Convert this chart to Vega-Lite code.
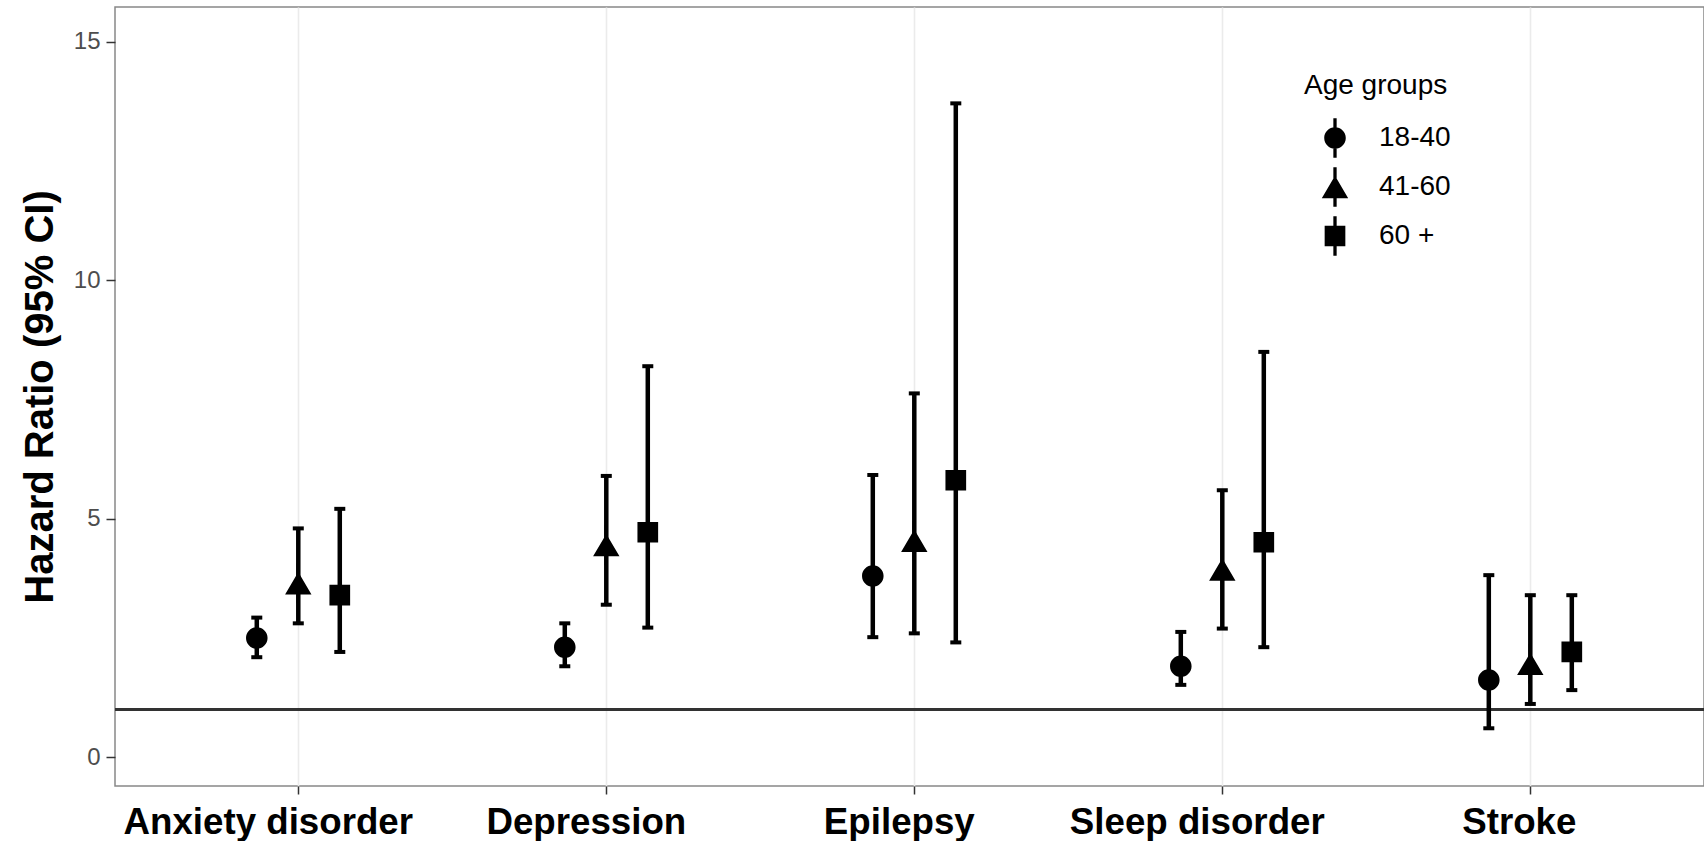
{
  "$schema": "https://vega.github.io/schema/vega-lite/v6.json",
  "autosize": {"type": "none"},
  "padding": {"left": 115, "top": 7, "right": 0, "bottom": 55},
  "width": 1589,
  "height": 779,
  "background": "white",
  "data": {"values": [
    {"disease": "Anxiety disorder", "age": "18-40", "hr": 2.5, "lower": 2.1, "upper": 2.93},
    {"disease": "Anxiety disorder", "age": "41-60", "hr": 3.65, "lower": 2.81, "upper": 4.8},
    {"disease": "Anxiety disorder", "age": "60 +", "hr": 3.4, "lower": 2.21, "upper": 5.21},
    {"disease": "Depression", "age": "18-40", "hr": 2.31, "lower": 1.91, "upper": 2.81},
    {"disease": "Depression", "age": "41-60", "hr": 4.45, "lower": 3.2, "upper": 5.9},
    {"disease": "Depression", "age": "60 +", "hr": 4.72, "lower": 2.72, "upper": 8.2},
    {"disease": "Epilepsy", "age": "18-40", "hr": 3.8, "lower": 2.52, "upper": 5.92},
    {"disease": "Epilepsy", "age": "41-60", "hr": 4.54, "lower": 2.6, "upper": 7.63},
    {"disease": "Epilepsy", "age": "60 +", "hr": 5.81, "lower": 2.41, "upper": 13.71},
    {"disease": "Sleep disorder", "age": "18-40", "hr": 1.91, "lower": 1.52, "upper": 2.63},
    {"disease": "Sleep disorder", "age": "41-60", "hr": 3.94, "lower": 2.7, "upper": 5.6},
    {"disease": "Sleep disorder", "age": "60 +", "hr": 4.51, "lower": 2.31, "upper": 8.5},
    {"disease": "Stroke", "age": "18-40", "hr": 1.62, "lower": 0.61, "upper": 3.82},
    {"disease": "Stroke", "age": "41-60", "hr": 1.96, "lower": 1.12, "upper": 3.4},
    {"disease": "Stroke", "age": "60 +", "hr": 2.21, "lower": 1.41, "upper": 3.4}
  ]},
  "layer": [
    {
      "mark": {"type": "rule", "color": "#333333", "strokeWidth": 2},
      "encoding": {
        "y": {"datum": 1, "type": "quantitative", "scale": {"domain": [-0.6, 15.73], "nice": false, "zero": false}, "title": "Hazard Ratio (95% CI)"}
      }
    },
    {
      "mark": {"type": "rule", "color": "black", "strokeWidth": 4.5},
      "encoding": {
        "x": {"field": "disease", "type": "nominal", "sort": ["Anxiety disorder", "Depression", "Epilepsy", "Sleep disorder", "Stroke"], "scale": {"type": "band", "paddingInner": 0, "paddingOuter": 0.0795, "align": 0.598}, "title": null},
        "xOffset": {"field": "age", "type": "nominal", "sort": ["18-40", "41-60", "60 +"], "scale": {"type": "point", "padding": 0, "range": [112.5, 195.5]}},
        "y": {"field": "lower", "type": "quantitative", "title": "Hazard Ratio (95% CI)"},
        "y2": {"field": "upper"}
      }
    },
    {
      "mark": {"type": "tick", "color": "black", "thickness": 4, "size": 11, "opacity": 1},
      "encoding": {
        "x": {"field": "disease", "type": "nominal", "sort": ["Anxiety disorder", "Depression", "Epilepsy", "Sleep disorder", "Stroke"], "title": null},
        "xOffset": {"field": "age", "type": "nominal", "sort": ["18-40", "41-60", "60 +"]},
        "y": {"field": "upper", "type": "quantitative", "title": "Hazard Ratio (95% CI)"}
      }
    },
    {
      "mark": {"type": "tick", "color": "black", "thickness": 4, "size": 11, "opacity": 1},
      "encoding": {
        "x": {"field": "disease", "type": "nominal", "sort": ["Anxiety disorder", "Depression", "Epilepsy", "Sleep disorder", "Stroke"], "title": null},
        "xOffset": {"field": "age", "type": "nominal", "sort": ["18-40", "41-60", "60 +"]},
        "y": {"field": "lower", "type": "quantitative", "title": "Hazard Ratio (95% CI)"}
      }
    },
    {
      "mark": {"type": "point", "filled": true, "opacity": 1, "color": "black", "size": 484},
      "encoding": {
        "x": {"field": "disease", "type": "nominal", "sort": ["Anxiety disorder", "Depression", "Epilepsy", "Sleep disorder", "Stroke"], "title": null},
        "xOffset": {"field": "age", "type": "nominal", "sort": ["18-40", "41-60", "60 +"]},
        "y": {"field": "hr", "type": "quantitative", "title": "Hazard Ratio (95% CI)"},
        "shape": {
          "field": "age", "type": "nominal",
          "scale": {"domain": ["18-40", "41-60", "60 +"], "range": [
            "M0.98,0A0.98,0.98,0,1,1,-0.98,0A0.98,0.98,0,1,1,0.98,0Z M-0.15,-1.8L0.15,-1.8L0.15,1.8L-0.15,1.8Z",
            "M0,-1.02L1.2,1.02L-1.2,1.02Z M-0.15,-1.8L0.15,-1.8L0.15,1.8L-0.15,1.8Z",
            "M-0.94,-0.94L0.94,-0.94L0.94,0.94L-0.94,0.94Z M-0.15,-1.8L0.15,-1.8L0.15,1.8L-0.15,1.8Z"
          ]},
          "legend": {
            "title": "Age groups",
            "orient": "none",
            "legendX": 1179,
            "legendY": 55,
            "padding": 10,
            "fillColor": "white",
            "titleFontSize": 28,
            "titleFontWeight": "normal",
            "titleColor": "black",
            "titlePadding": 24,
            "labelFontSize": 28,
            "labelColor": "black",
            "symbolSize": 484,
            "symbolFillColor": "black",
            "symbolStrokeWidth": 0,
            "symbolOpacity": 1,
            "symbolOffset": 17,
            "labelOffset": 30,
            "rowPadding": 9
          }
        }
      }
    }
  ],
  "config": {
    "font": "Liberation Sans",
    "view": {"stroke": "#888888", "strokeWidth": 1.5},
    "axisX": {
      "labelFontSize": 36.7, "labelFontWeight": "bold", "labelColor": "black", "labelAngle": 0, "labelLimit": 0,
      "labelOffset": {"condition": [
        {"test": "datum.value === 'Anxiety disorder'", "value": -30},
        {"test": "datum.value === 'Depression'", "value": -20},
        {"test": "datum.value === 'Epilepsy'", "value": -15},
        {"test": "datum.value === 'Sleep disorder'", "value": -25}
      ], "value": -11},
      "tickSize": 8, "tickColor": "#333333", "tickWidth": 1.5, "labelPadding": 10,
      "grid": true, "gridColor": "#ebebeb", "gridWidth": 1.6, "domain": false
    },
    "axisY": {
      "values": [0, 2.5, 5, 7.5, 10, 12.5, 15],
      "labelExpr": "datum.value % 5 === 0 ? datum.label : ''",
      "labelFontSize": 24, "labelColor": "#4d4d4d", "labelPadding": 6,
      "tickSize": 9, "tickWidth": 1.5,
      "tickColor": {"condition": {"test": "datum.value % 5 === 0", "value": "#333333"}, "value": "transparent"},
      "gridColor": "#ebebeb",
      "gridWidth": {"condition": {"test": "datum.value % 5 === 0", "value": 1.6}, "value": 0.9},
      "domain": false,
      "titleFontSize": 40, "titleFontWeight": "bold", "titleColor": "black", "titlePadding": 13
    }
  }
}
